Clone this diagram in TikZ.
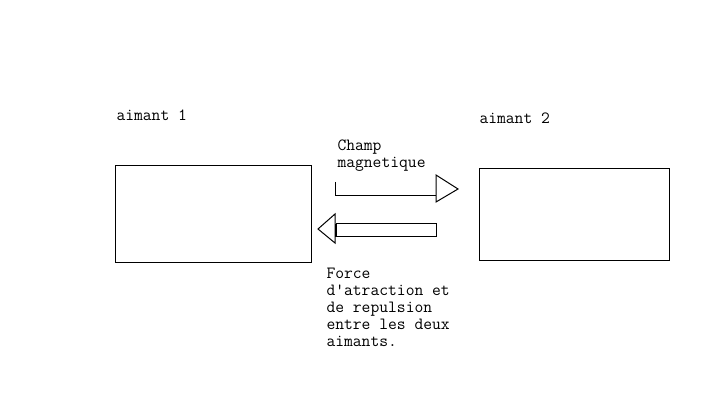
\documentclass[tikz,border=0pt]{standalone}
\usepackage{fontspec}
\begin{document}
\begin{tikzpicture}[x=1pt,y=-1pt,line width=1pt,
  lbl/.style={anchor=base west,inner sep=0pt,font=\ttfamily\fontsize{17.1}{17}\selectfont,align=left},
  aimant/.style={draw,inner sep=0pt,anchor=north west}]
\useasboundingbox (0,0) rectangle (723,414);
\node[aimant,minimum width=196pt,minimum height=97pt] (a1) at (114.5,165.5) {};
\node[aimant,minimum width=190pt,minimum height=92pt] (a2) at (478.5,168.5) {};
\node[lbl] (t1) at (116,121) {aimant 1};
\node[lbl] (t2) at (479,124) {aimant 2};
\node[lbl] (tc) at (337,168) {Champ\\magnetique};
\node[lbl] (tf) at (326,346) {Force\\d'atraction et\\de repulsion\\entre les deux\\aimants.};
% right arrow (champ)
\coordinate (r1) at (335.5,182);
\coordinate (r2) at (335.5,196);
\coordinate (r3) at (436,196);
\coordinate (r4) at (436,175);
\coordinate (r5) at (458,189);
\coordinate (r6) at (436,202);
\draw (r1) -- (r2) -- (r3);
\draw (r4) -- (r5) -- (r6) -- cycle;
% left arrow (force)
\coordinate (l1) at (336,224);
\coordinate (l2) at (436,224);
\coordinate (l3) at (436,237);
\coordinate (l4) at (336,237);
\draw (l1) -- (l2) -- (l3) -- (l4) -- cycle;
\coordinate (h1) at (335,214);
\coordinate (h2) at (318,229);
\coordinate (h3) at (335,243);
\draw (h1) -- (h2) -- (h3) -- cycle;
\draw[line width=2pt] (l1) -- (l4);
\end{tikzpicture}
\end{document}
